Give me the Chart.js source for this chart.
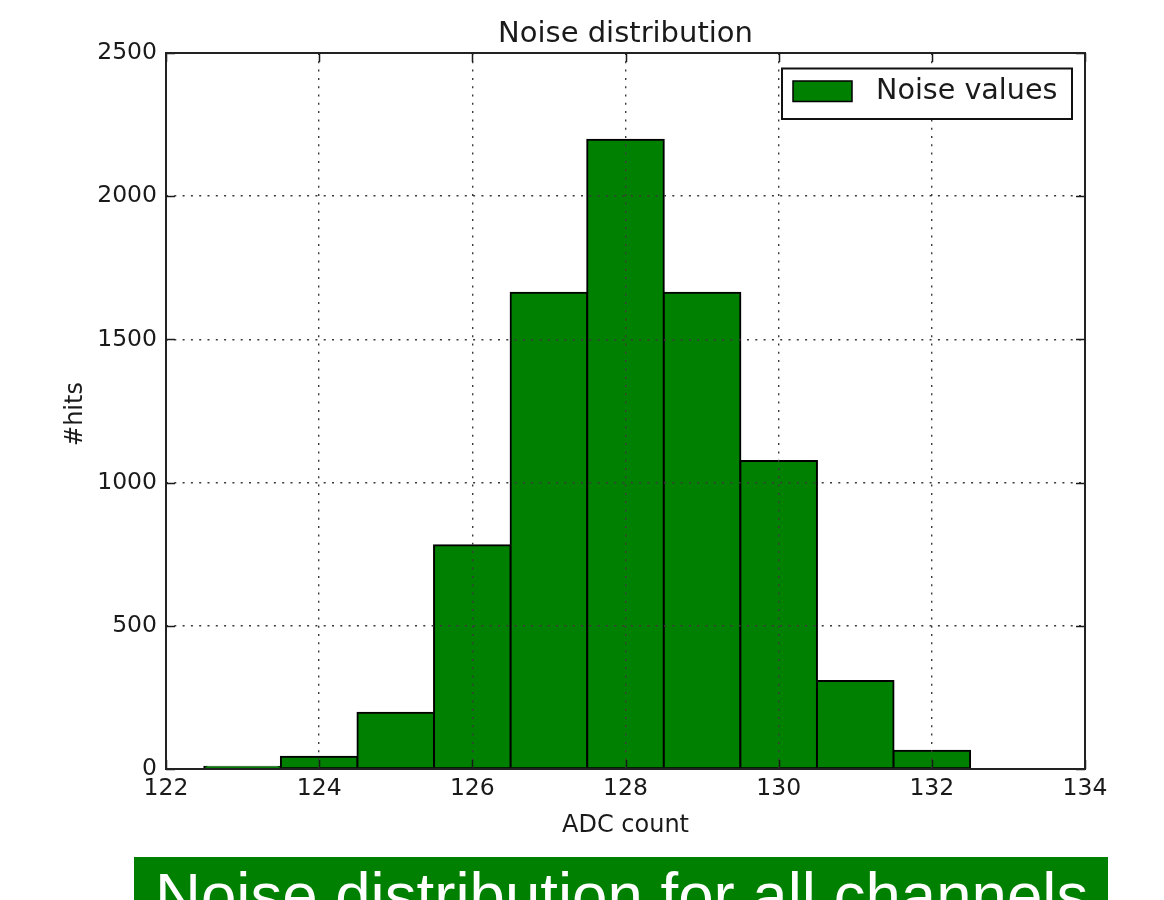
<!DOCTYPE html>
<html>
<head>
<meta charset="utf-8">
<script src="https://cdn.jsdelivr.net/npm/chart.js@4/dist/chart.umd.min.js"></script>
<style>
  html, body { margin: 0; padding: 0; background: #fff; overflow: hidden; width: 1164px; height: 900px; }
  #wrap { position: absolute; left: 0; top: 0; width: 1164px; height: 900px; }
  #banner { position: absolute; left: 134px; top: 857px; width: 974px; height: 70px; background: #008000; overflow: hidden; }
  #banner span { position: absolute; left: 21px; top: 5.5px; font: 63.6px/64px "Liberation Sans", Arial, sans-serif; color: #fff; white-space: nowrap; }
</style>
</head>
<body>
<div id="wrap"><canvas id="c" width="1164" height="900"></canvas></div>
<div id="banner"><span>Noise distribution for all channels</span></div>
<script>
// Histogram bins (centre of each 1-count wide bin) and their hit counts
const binCenters = [123, 124, 125, 126, 127, 128, 129, 130, 131, 132];
const hitCounts  = [8, 43, 196, 781, 1663, 2197, 1663, 1075, 307, 64];
const xTicks = [122, 124, 126, 128, 130, 132, 134];
const yTicks = [0, 500, 1000, 1500, 2000, 2500];
const seriesLabel = 'Noise values';
const chartTitle = 'Noise distribution';
const xTitle = 'ADC count';
const yTitle = '#hits';

const FONT = '"DejaVu Sans", Verdana, sans-serif';
const INK = '#1a1a1a';
const GREEN = '#008000';

// Frame, inward tick marks, titles and legend box
const decorations = {
  id: 'decorations',
  afterDraw(chart) {
    const ctx = chart.ctx;
    const a = chart.chartArea;
    const xs = chart.scales.x, ys = chart.scales.y;
    ctx.save();
    // inward ticks on all four sides
    ctx.strokeStyle = INK;
    ctx.lineWidth = 1.5;
    const tl = 9;
    ctx.beginPath();
    xTicks.forEach(v => {
      const px = Math.round(xs.getPixelForValue(v)) + 0.5;
      ctx.moveTo(px, a.bottom); ctx.lineTo(px, a.bottom - tl);
      ctx.moveTo(px, a.top); ctx.lineTo(px, a.top + tl);
    });
    yTicks.forEach(v => {
      const py = Math.round(ys.getPixelForValue(v)) + 0.5;
      ctx.moveTo(a.left, py); ctx.lineTo(a.left + tl, py);
      ctx.moveTo(a.right, py); ctx.lineTo(a.right - tl, py);
    });
    ctx.stroke();
    // axes frame
    ctx.lineWidth = 2;
    ctx.strokeStyle = '#222';
    ctx.strokeRect(a.left, a.top, a.right - a.left, a.bottom - a.top);

    // titles
    ctx.fillStyle = INK;
    ctx.textAlign = 'center';
    ctx.textBaseline = 'alphabetic';
    ctx.font = '29px ' + FONT;
    ctx.fillText(chartTitle, (a.left + a.right) / 2, 42.3);
    ctx.font = '24px ' + FONT;
    ctx.fillText(xTitle, (a.left + a.right) / 2, 832);
    ctx.save();
    ctx.translate(82, 414);
    ctx.rotate(-Math.PI / 2);
    ctx.fillText(yTitle, 0, 0);
    ctx.restore();

    // legend
    const lx = 782, ly = 68.5, lw = 290, lh = 50.5;
    ctx.fillStyle = '#fff';
    ctx.fillRect(lx, ly, lw, lh);
    ctx.lineWidth = 2;
    ctx.strokeStyle = '#111';
    ctx.strokeRect(lx, ly, lw, lh);
    ctx.fillStyle = GREEN;
    ctx.fillRect(793, 81, 59, 20.5);
    ctx.lineWidth = 1.5;
    ctx.strokeStyle = '#000';
    ctx.strokeRect(793, 81, 59, 20.5);
    ctx.fillStyle = INK;
    ctx.textAlign = 'left';
    ctx.font = '28.6px ' + FONT;
    ctx.fillText(seriesLabel, 876, 99.3);
    ctx.restore();
  }
};

const gridStyle = { color: '#3a3a3a', lineWidth: 1.4, drawTicks: false, offset: false, z: 1 };
const borderStyle = { display: false, dash: [2, 6.3], z: 1 };

new Chart(document.getElementById('c'), {
  type: 'bar',
  data: {
    datasets: [{
      label: seriesLabel,
      data: binCenters.map((x, i) => ({ x: x, y: hitCounts[i] })),
      backgroundColor: GREEN,
      borderColor: '#000',
      borderWidth: 2,
      borderSkipped: false,
      inflateAmount: 1,
      barPercentage: 1,
      categoryPercentage: 1,
      grouped: false
    }]
  },
  options: {
    responsive: false,
    animation: false,
    devicePixelRatio: 1,
    layout: { padding: { left: 0, top: 53, right: 79, bottom: 0 } },
    plugins: { legend: { display: false }, title: { display: false }, tooltip: { enabled: false } },
    scales: {
      x: {
        type: 'linear',
        min: 122, max: 134,
        offset: false,
        afterBuildTicks: s => { s.ticks = xTicks.map(v => ({ value: v })); },
        afterFit: s => { s.height = 131; },
        grid: gridStyle,
        border: borderStyle,
        ticks: { color: INK, font: { family: FONT, size: 23.5 }, padding: 6, maxRotation: 0, autoSkip: false, callback: v => String(v) }
      },
      y: {
        type: 'linear',
        min: 0, max: 2500,
        afterBuildTicks: s => { s.ticks = yTicks.map(v => ({ value: v })); },
        afterFit: s => { s.width = 166; },
        grid: gridStyle,
        border: borderStyle,
        ticks: { color: INK, font: { family: FONT, size: 23.5 }, padding: 9, autoSkip: false, callback: v => String(v) }
      }
    }
  },
  plugins: [decorations]
});
</script>
</body>
</html>
